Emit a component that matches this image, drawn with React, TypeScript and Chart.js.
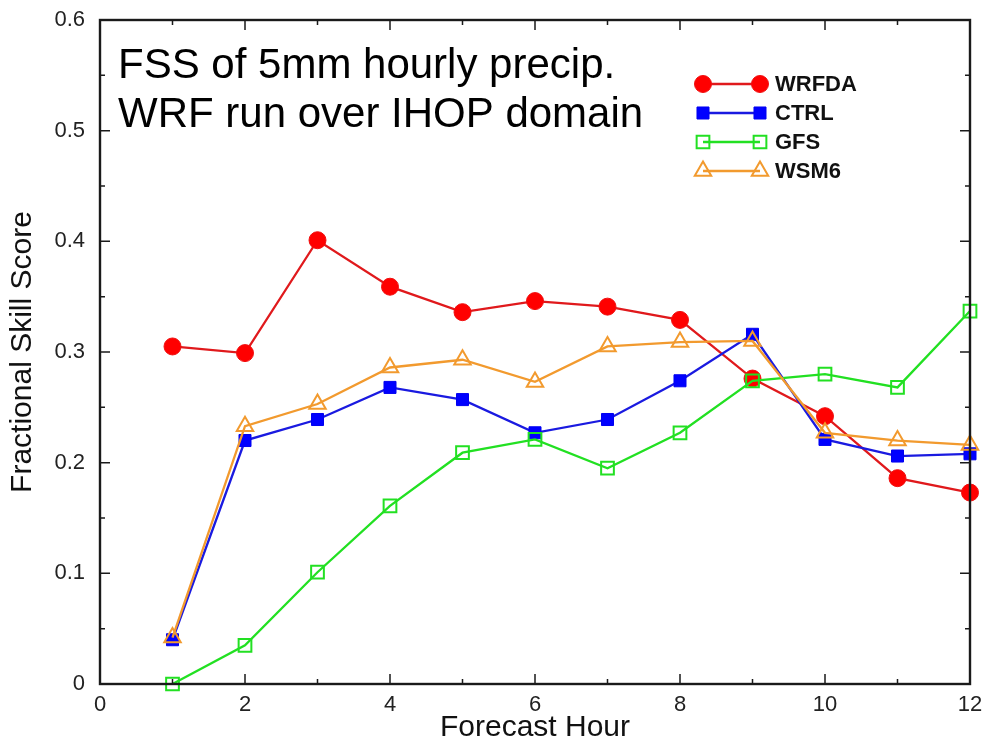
import React, { useEffect, useRef } from 'react';
import { Chart, registerables } from 'chart.js';

Chart.register(...registerables);

const hours = [1, 2, 3, 4, 5, 6, 7, 8, 9, 10, 11, 12];
const wrfda = [0.305, 0.299, 0.401, 0.359, 0.336, 0.346, 0.341, 0.329, 0.276, 0.242, 0.186, 0.173];
const ctrl = [0.040, 0.220, 0.239, 0.268, 0.257, 0.227, 0.239, 0.274, 0.316, 0.221, 0.206, 0.208];
const gfs = [0.000, 0.035, 0.101, 0.161, 0.209, 0.221, 0.195, 0.227, 0.274, 0.280, 0.268, 0.337];
const wsm6 = [0.042, 0.233, 0.253, 0.286, 0.293, 0.273, 0.305, 0.309, 0.310, 0.227, 0.220, 0.216];

const xTickValues = [0, 2, 4, 6, 8, 10, 12];
const xTickLabels = ['0', '2', '4', '6', '8', '10', '12'];
const yTickValues = [0, 0.1, 0.2, 0.3, 0.4, 0.5, 0.6];
const yTickLabels = ['0', '0.1', '0.2', '0.3', '0.4', '0.5', '0.6'];

const annotationLines = ['FSS of 5mm hourly precip.', 'WRF run over IHOP domain'];
const seriesLabels = ['WRFDA', 'CTRL', 'GFS', 'WSM6'];

const FONT = '"Liberation Sans", Arial, Helvetica, sans-serif';

function drawMarker(ctx: CanvasRenderingContext2D, style: string, x: number, y: number, r: number, fill: string, stroke: string, lw: number) {
  ctx.save();
  ctx.beginPath();
  if (style === 'circle') {
    ctx.arc(x, y, r, 0, Math.PI * 2);
  } else if (style === 'rect') {
    const h = r * Math.SQRT1_2;
    ctx.rect(x - h, y - h, 2 * h, 2 * h);
  } else if (style === 'triangle') {
    let a = 0;
    ctx.moveTo(x + Math.sin(a) * r, y - Math.cos(a) * r);
    a += (2 * Math.PI) / 3;
    ctx.lineTo(x + Math.sin(a) * r, y - Math.cos(a) * r);
    a += (2 * Math.PI) / 3;
    ctx.lineTo(x + Math.sin(a) * r, y - Math.cos(a) * r);
    ctx.closePath();
  }
  ctx.fillStyle = fill;
  ctx.fill();
  ctx.lineWidth = lw;
  ctx.strokeStyle = stroke;
  ctx.stroke();
  ctx.restore();
}

const framePlugin = {
  id: 'frameAndDecor',
  afterDatasetsDraw(chart: any) {
    const { ctx, chartArea, scales } = chart;
    const { left, right, top, bottom } = chartArea;
    const x = scales.x;
    const y = scales.y;
    ctx.save();
    ctx.strokeStyle = '#1a1a1a';
    ctx.lineWidth = 1.5;
    ctx.beginPath();
    for (let v = 0; v <= 12; v++) {
      const px = x.getPixelForValue(v);
      const len = v % 2 === 0 ? 10 : 5;
      ctx.moveTo(px, bottom);
      ctx.lineTo(px, bottom - len);
      ctx.moveTo(px, top);
      ctx.lineTo(px, top + len);
    }
    for (let i = 0; i <= 12; i++) {
      const py = y.getPixelForValue(i * 0.05);
      const len = i % 2 === 0 ? 10 : 5;
      ctx.moveTo(left, py);
      ctx.lineTo(left + len, py);
      ctx.moveTo(right, py);
      ctx.lineTo(right - len, py);
    }
    ctx.stroke();
    ctx.lineWidth = 2.4;
    ctx.strokeRect(left, top, right - left, bottom - top);
    ctx.restore();
  },
  afterDraw(chart: any) {
    const { ctx } = chart;
    ctx.save();
    ctx.fillStyle = '#000';
    ctx.font = `42px ${FONT}`;
    ctx.textAlign = 'left';
    ctx.textBaseline = 'alphabetic';
    ctx.fillText(annotationLines[0], 118, 78);
    ctx.fillText(annotationLines[1], 118, 127);

    const rowY = [84, 113, 142, 171];
    const x0 = 703;
    const x1 = 760;
    chart.data.datasets.forEach((ds: any, i: number) => {
      const yy = rowY[i];
      ctx.beginPath();
      ctx.strokeStyle = ds.borderColor;
      ctx.lineWidth = ds.borderWidth;
      ctx.moveTo(x0, yy);
      ctx.lineTo(x1, yy);
      ctx.stroke();
      [x0, x1].forEach((xx) =>
        drawMarker(ctx, ds.pointStyle, xx, yy, ds.pointRadius, ds.pointBackgroundColor, ds.pointBorderColor, ds.pointBorderWidth)
      );
      ctx.fillStyle = '#111';
      ctx.font = `bold 22px ${FONT}`;
      ctx.textBaseline = 'middle';
      ctx.fillText(ds.label, 775, yy + 1);
    });
    ctx.restore();
  },
};

function pts(vals: number[]) {
  return hours.map((h, i) => ({ x: h, y: vals[i] }));
}

export default function App() {
  const ref = useRef<HTMLCanvasElement | null>(null);

  useEffect(() => {
    if (!ref.current) return;
    const chart = new Chart(ref.current, {
      type: 'line',
      data: {
        datasets: [
          {
            label: seriesLabels[0],
            data: pts(wrfda),
            borderColor: '#e0191c',
            borderWidth: 2.3,
            pointStyle: 'circle',
            pointRadius: 8.5,
            pointBackgroundColor: '#ff0000',
            pointBorderColor: '#f01010',
            pointBorderWidth: 1,
            order: 3,
            clip: false,
          },
          {
            label: seriesLabels[1],
            data: pts(ctrl),
            borderColor: '#1a1ae0',
            borderWidth: 2.3,
            pointStyle: 'rect',
            pointRadius: 8.5,
            pointBackgroundColor: '#0000ff',
            pointBorderColor: '#0000f0',
            pointBorderWidth: 1,
            order: 2,
            clip: false,
          },
          {
            label: seriesLabels[2],
            data: pts(gfs),
            borderColor: '#22e022',
            borderWidth: 2.3,
            pointStyle: 'rect',
            pointRadius: 9,
            pointBackgroundColor: 'rgba(0,0,0,0)',
            pointBorderColor: '#22e022',
            pointBorderWidth: 2,
            order: 1,
            clip: false,
          },
          {
            label: seriesLabels[3],
            data: pts(wsm6),
            borderColor: '#f29a2e',
            borderWidth: 2.3,
            pointStyle: 'triangle',
            pointRadius: 9.5,
            pointBackgroundColor: 'rgba(0,0,0,0)',
            pointBorderColor: '#f29a2e',
            pointBorderWidth: 2,
            order: 0,
            clip: false,
          },
        ] as any,
      },
      options: {
        animation: false,
        responsive: false,
        events: [],
        layout: { padding: { left: 0, right: 15, top: 20, bottom: 0 } },
        plugins: {
          legend: { display: false },
          tooltip: { enabled: false },
        },
        elements: { line: { tension: 0 } },
        scales: {
          x: {
            type: 'linear',
            min: 0,
            max: 12,
            afterBuildTicks: (s: any) => {
              s.ticks = xTickValues.map((v) => ({ value: v }));
            },
            afterFit: (s: any) => {
              s.height = 62;
              s.paddingLeft = 0;
              s.paddingRight = 0;
            },
            grid: { display: false, drawTicks: false },
            border: { display: false },
            ticks: {
              autoSkip: false,
              maxRotation: 0,
              padding: 8,
              color: '#222',
              font: { family: FONT, size: 22 },
              callback: (_v: any, i: number) => xTickLabels[i],
            },
            title: {
              display: true,
              text: 'Forecast Hour',
              color: '#111',
              font: { family: FONT, size: 30 },
              padding: { top: 0, bottom: 0 },
            },
          },
          y: {
            type: 'linear',
            min: 0,
            max: 0.6,
            afterBuildTicks: (s: any) => {
              s.ticks = yTickValues.map((v) => ({ value: v }));
            },
            afterFit: (s: any) => {
              s.width = 100;
              s.paddingTop = 0;
              s.paddingBottom = 0;
            },
            grid: { display: false, drawTicks: false },
            border: { display: false },
            ticks: {
              autoSkip: false,
              padding: 15,
              color: '#222',
              font: { family: FONT, size: 22 },
              callback: (_v: any, i: number) => yTickLabels[i],
            },
            title: {
              display: true,
              text: 'Fractional Skill Score',
              color: '#111',
              font: { family: FONT, size: 30 },
              padding: { top: 5, bottom: 0 },
            },
          },
        },
      } as any,
      plugins: [framePlugin],
    });
    return () => chart.destroy();
  }, []);

  return (
    <div style={{ position: 'absolute', left: 0, top: 0, width: 985, height: 746, background: '#fff' }}>
      <canvas ref={ref} width={985} height={746} />
    </div>
  );
}
